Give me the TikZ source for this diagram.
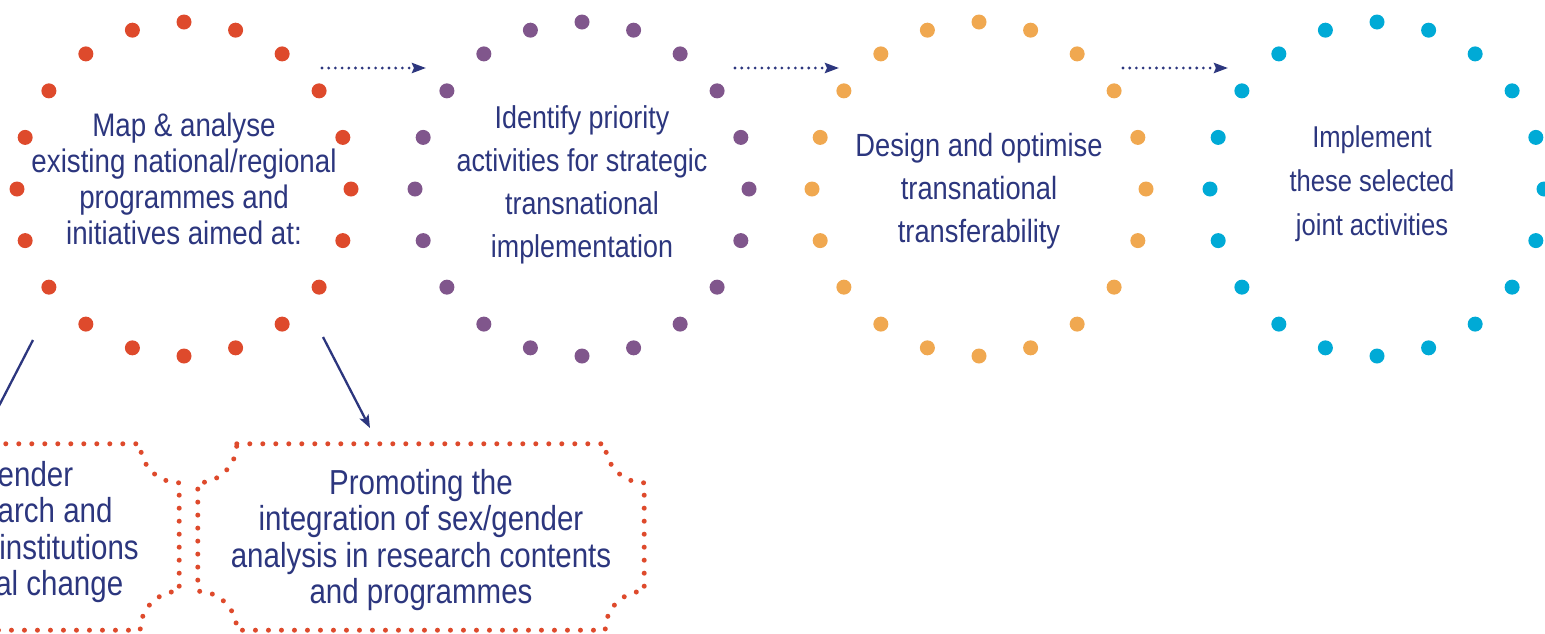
\documentclass[tikz,border=0pt]{standalone}
\usepackage{fontspec}
\setmainfont{Liberation Sans}[FakeStretch=0.85]
\usepackage{tikz}
\usetikzlibrary{arrows.meta,calc}
\usepackage{xcolor}

\definecolor{navy}{RGB}{44,54,126}
\definecolor{dotred}{RGB}{222,74,44}
\definecolor{dotpurple}{RGB}{128,86,140}
\definecolor{dotorange}{RGB}{240,168,80}
\definecolor{dotblue}{RGB}{0,170,214}

\tikzset{
	phase/.style = {align=center, text=navy, inner sep=0pt},
	flow/.style = {navy, line width=3.1pt, line cap=round, dash pattern=on 0pt off 6.7pt,
		-{Stealth[length=14pt,width=10pt,inset=2pt]}},
	aim/.style = {navy, line width=2.3pt, -{Stealth[length=13pt,width=10pt,inset=3pt]}},
	aimframe/.style = {inner sep=0pt, minimum width=446pt, minimum height=186pt},
	aimtext/.style = {phase, font=\fontsize{34.7}{36.4}\selectfont},
	notchframe/.style = {dotred, line width=5pt, line cap=round, dash pattern=on 0pt off 13pt},
}

% ring of dots round a centre
\newcommand{\dotring}[2]{%
	\foreach \a in {0,18,...,342} \fill[#2] ($(#1)+(\a:167)$) circle (7.5);}

% dotted frame with hollowed corners
\newcommand{\notchframe}[1]{%
	\draw[notchframe] ($(#1.north west)+(39,0)$) -- ($(#1.north east)+(-39,0)$)
		.. controls +(0,21.5) and +(-21.5,0) .. ($(#1.north east)+(0,39)$)
		-- ($(#1.south east)+(0,-39)$)
		.. controls +(-21.5,0) and +(0,-21.5) .. ($(#1.south east)+(-39,0)$)
		-- ($(#1.south west)+(39,0)$)
		.. controls +(0,-21.5) and +(21.5,0) .. ($(#1.south west)+(0,-39)$)
		-- ($(#1.north west)+(0,39)$)
		.. controls +(21.5,0) and +(0,21.5) .. cycle;}

\begin{document}
\begin{tikzpicture}[x=1pt, y=-1pt]
	\useasboundingbox (0,0) rectangle (1545,633);

	% rings
	\coordinate (r1) at (184,189);
	\coordinate (r2) at (582,189);
	\coordinate (r3) at (979,189);
	\coordinate (r4) at (1377,189);
	\dotring{r1}{dotred}
	\dotring{r2}{dotpurple}
	\dotring{r3}{dotorange}
	\dotring{r4}{dotblue}

	\node[phase, font=\fontsize{32.6}{36}\selectfont] (map) at (184,179)
		{Map \& analyse\\existing national/regional\\programmes and\\initiatives aimed at:};
	\node[phase, font=\fontsize{31.6}{43}\selectfont] (identify) at (582,185)
		{Identify priority\\activities for strategic\\transnational\\implementation};
	\node[phase, font=\fontsize{32.1}{43}\selectfont] (design) at (979,191)
		{Design and optimise\\transnational\\transferability};
	\node[phase, font=\fontsize{30.1}{44}\selectfont] (implement) at (1372,184)
		{Implement\\these selected\\joint activities};

	% steps
	\coordinate (f1a) at (322,68);  \coordinate (f1b) at (426,68);
	\coordinate (f2a) at (735,68);  \coordinate (f2b) at (839,68);
	\coordinate (f3a) at (1123,68); \coordinate (f3b) at (1228,68);
	\draw[flow] (f1a) -- (f1b);
	\draw[flow] (f2a) -- (f2b);
	\draw[flow] (f3a) -- (f3b);

	% aims
	\node[aimframe] (gender) at (-44,537) {};
	\node[aimframe] (sexgender) at (421,537) {};
	\notchframe{gender}
	\notchframe{sexgender}
	\node[aimtext] (genderText) at (-44,532)
		{Promoting gender\\equality in research and\\higher education institutions\\through structural change};
	\node[aimtext] (sexgenderText) at (421,540)
		{Promoting the\\integration of sex/gender\\analysis in research contents\\and programmes};

	\coordinate (mapL) at (33,340);  \coordinate (genderTop) at (-14,431);
	\coordinate (mapR) at (323,337); \coordinate (sexTop) at (370,428);
	\draw[aim] (mapL) -- (genderTop);
	\draw[aim] (mapR) -- (sexTop);
\end{tikzpicture}
\end{document}
